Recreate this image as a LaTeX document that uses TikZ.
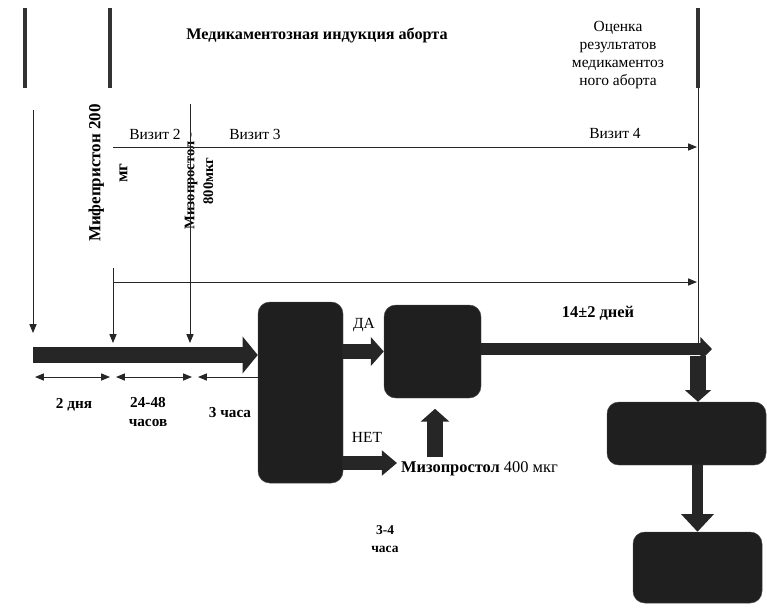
\documentclass[tikz,border=0pt]{standalone}
\usepackage{fontspec}
\setmainfont{Liberation Serif}
\usetikzlibrary{arrows.meta, positioning, calc}

\begin{document}
\begin{tikzpicture}[x=0.03cm, y=-0.03cm, font=\fontsize{13.2}{15.5}\selectfont,
    >={Triangle[length=7.5pt,width=6pt]},
    box/.style={draw=black!70, fill=black!88, rounded corners=10pt, inner sep=0pt},
    fat/.style={line width=12.5pt, draw=black!85, -{Triangle[length=11pt,width=24pt]}},
    thin/.style={line width=0.8pt, draw=black!85},
    dim/.style={thin, <->},
    bar/.style={line width=3.4pt, draw=black!80}]
    \useasboundingbox (0,0) rectangle (767,607);

    \draw[bar] (25,8) -- (25,88);
    \draw[bar] (110,8) -- (110,88);
    \draw[bar] (698,8) -- (698,88);

    \node[font=\fontsize{13.8}{15}\selectfont\bfseries] (title) at (317,35) {Медикаментозная индукция аборта};
    \node[align=center] (otsenka) at (618,55) {Оценка\\результатов\\медикаментоз\\ного аборта};

    \node[rotate=90, align=center, font=\fontsize{14.5}{16}\selectfont\bfseries] (mif) at (108,173) {Мифепристон 200\\[7pt]мг};
    \node[rotate=90, align=center, font=\fontsize{12.5}{14}\selectfont\bfseries] (miz800) at (199,181) {Мизопростол -\\[2pt]800мкг};

    \node (viz2) at (155,134) {Визит 2};
    \node (viz3) at (255,134) {Визит 3};
    \node (viz4) at (615,133) {Визит 4};

    \node[box, minimum width=2.55cm, minimum height=5.43cm] (b1) at (300.5,392.5) {};
    \node[box, minimum width=2.91cm, minimum height=2.79cm] (b2) at (432.5,351.5) {};
    \node[box, minimum width=4.77cm, minimum height=1.89cm] (b3) at (686.5,433.5) {};
    \node[box, minimum width=3.87cm, minimum height=2.13cm] (b4) at (697.5,567.5) {};

    \coordinate (v1top) at (33,110);
    \coordinate (v1bot) at (33,333);
    \coordinate (v2top) at (113,268);
    \coordinate (v2bot) at (113,343);
    \coordinate (v3top) at (190,104);
    \coordinate (v3bot) at (190,343);
    \coordinate (h1a) at (113,147);
    \coordinate (h1b) at (697,147);
    \coordinate (h2a) at (113,282);
    \coordinate (h2b) at (697,282);
    \coordinate (rtop) at (698,88);
    \coordinate (rbot) at (698,352);

    \draw[thin, ->] (v1top) -- (v1bot);
    \draw[thin, ->] (v2top) -- (v2bot);
    \draw[thin, ->] (v3top) -- (v3bot);
    \draw[thin, ->] (h1a) -- (h1b);
    \draw[thin, ->] (h2a) -- (h2b);
    \draw[thin] (rtop) -- (rbot);

    \coordinate (d0) at (35,377);
    \coordinate (d1) at (110,377);
    \coordinate (d2) at (116,377);
    \coordinate (d3) at (192,377);
    \coordinate (d4) at (198,377);
    \draw[dim] (d0) -- (d1);
    \draw[dim] (d2) -- (d3);
    \draw[thin, <-] (d4) -- (d4 -| b1.west);

    \node[font=\fontsize{13}{14}\selectfont\bfseries] (dva) at (74,405) {2 дня};
    \node[align=center, font=\fontsize{13}{17}\selectfont\bfseries] (chasov) at (148,412) {24-48\\часов};
    \node[font=\fontsize{13}{14}\selectfont\bfseries] (tri) at (230,413) {3 часа};

    \coordinate (t0) at (33,355);
    \draw[fat, line width=13.5pt, -{Triangle[length=13pt,width=31pt]}] (t0) -- (t0 -| b1.west);

    \node (da) at (364,325) {ДА};
    \draw[fat] (b1.east |- b2.west) -- (b2.west);

    \coordinate (tend) at (712,349);
    \draw[fat, line width=10.5pt, -{Triangle[length=10pt,width=20pt]}] (b2.east |- tend) -- (tend);
    \node[font=\fontsize{14}{15}\selectfont\bfseries] (dney) at (598,313) {14±2 дней};

    \coordinate (dn) at (698,356);
    \draw[fat, line width=13pt, -{Triangle[length=10pt,width=22pt]}] (dn) -- (dn |- b3.north);
    \draw[fat, line width=9pt, -{Triangle[length=15pt,width=27pt]}] (b3.south -| b4.north) -- (b4.north);

    \node[anchor=west, font=\fontsize{14}{16}\selectfont] (miz400) at (397,469) {\textbf{Мизопростол} 400 мкг};
    \node (net) at (367,437) {НЕТ};
    \draw[fat, -{Triangle[length=13pt,width=21pt]}] (b1.east |- 0,463) -- (miz400.west |- 0,463);

    \coordinate (up0) at (435,457);
    \draw[fat, line width=13pt, -{Triangle[length=11pt,width=24pt]}, shorten >=9] (up0) -- (up0 |- b2.south);

    \node[align=center, font=\fontsize{11.5}{16}\selectfont\bfseries] (chasa) at (385,539) {3-4\\часа};
\end{tikzpicture}
\end{document}
